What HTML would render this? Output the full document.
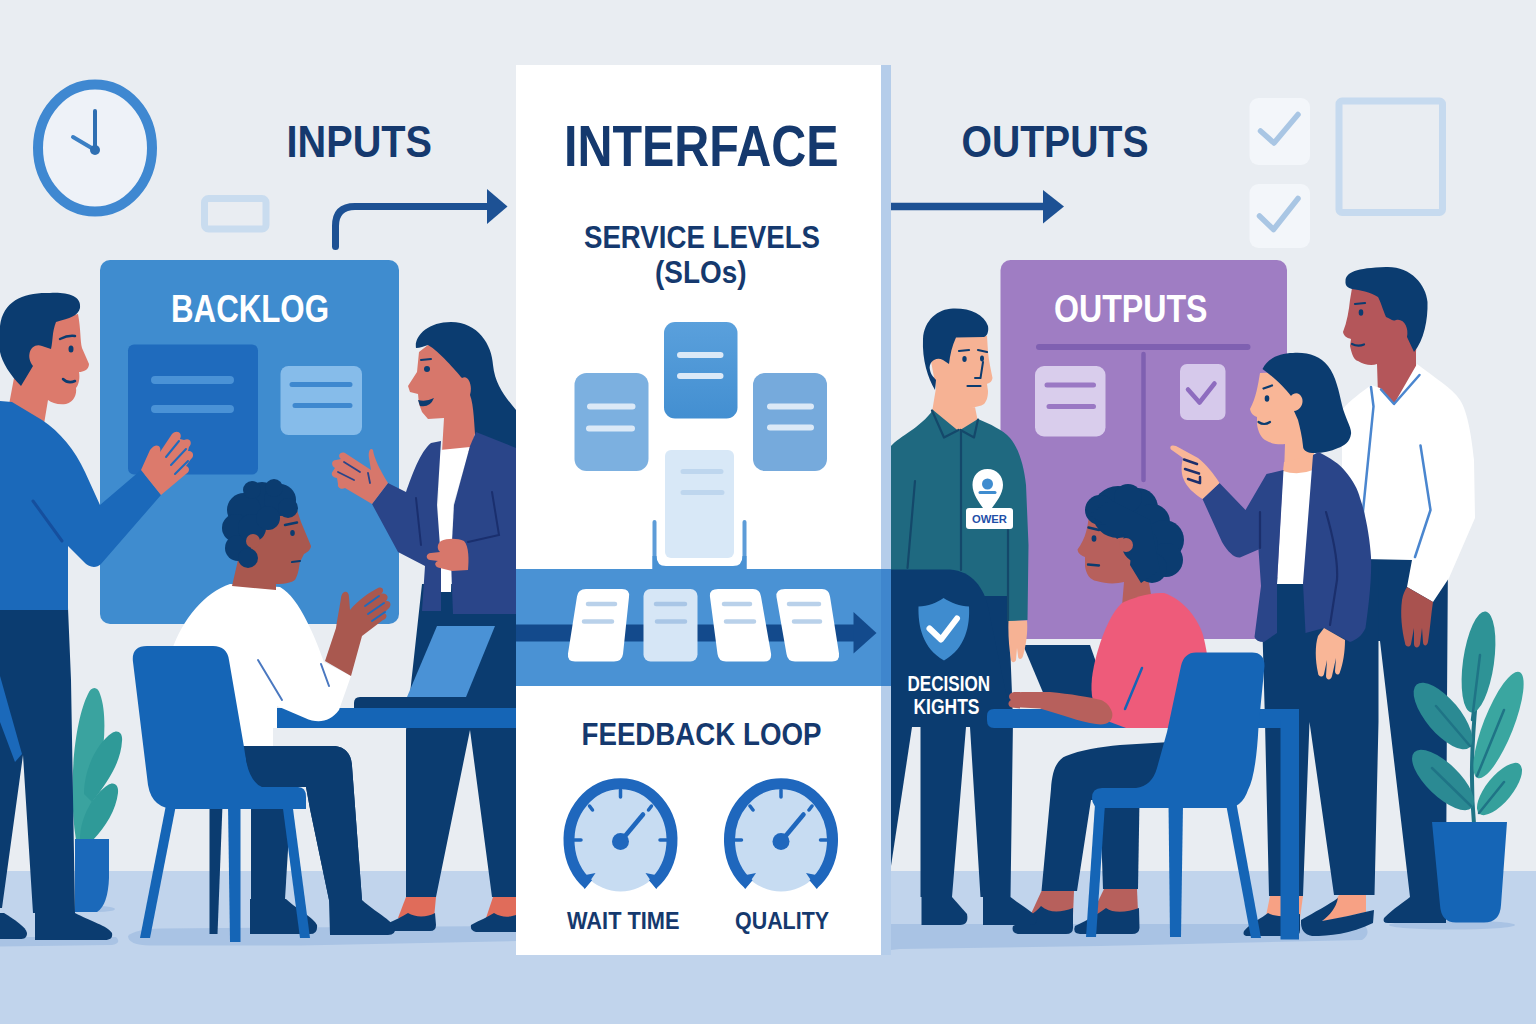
<!DOCTYPE html>
<html lang="en">
<head>
<meta charset="utf-8">
<title>Interface: Inputs, Service Levels, Feedback Loop, Outputs</title>
<style>
html,body{margin:0;padding:0;background:#e9edf2;}
body{width:1536px;height:1024px;overflow:hidden;}
svg{display:block;}
text{font-family:"Liberation Sans",sans-serif;font-weight:bold;}
</style>
</head>
<body>
<svg width="1536" height="1024" viewBox="0 0 1536 1024">
<defs>
  <linearGradient id="gCardTop" x1="0" y1="0" x2="0" y2="1">
    <stop offset="0" stop-color="#5aa0dc"/><stop offset="1" stop-color="#438fd1"/>
  </linearGradient>
</defs>

<!-- ===== BACKGROUND ===== -->
<g id="bg">
  <rect x="0" y="0" width="1536" height="1024" fill="#e9edf2"/>
  <rect x="0" y="871" width="1536" height="153" fill="#c1d4ec"/>
  <path d="M891,924 L1364,924 Q1372,934 1362,940 L1100,946 L900,949 L891,950 Z" fill="#a9c3e4"/>
  <ellipse cx="1452" cy="925" rx="63" ry="4.500" fill="#a9c3e4"/>
  <path d="M128,936 Q135,929 160,928.500 L516,926 L516,941 L300,945.500 L150,945.500 Q128,945 128,936 Z" fill="#a9c3e4"/>
  <path d="M0,937 L116,937 Q122,943 112,945 L0,946.500 Z" fill="#a9c3e4"/>
  <ellipse cx="98" cy="909" rx="17" ry="3" fill="#a9c3e4"/>
</g>

<!-- ===== WALL DECOR ===== -->
<g id="decor">
  <!-- clock -->
  <ellipse cx="95" cy="148" rx="57" ry="63.5" fill="#eef2f8" stroke="#3f88d1" stroke-width="10"/>
  <path d="M95,150 L95,111" stroke="#2f6fb2" stroke-width="4" stroke-linecap="round" fill="none"/>
  <path d="M95,150 L73,137" stroke="#3b7fc4" stroke-width="4" stroke-linecap="round" fill="none"/>
  <circle cx="95" cy="150" r="5" fill="#2f6fb2"/>
  <!-- small frame -->
  <rect x="204.500" y="198.500" width="61.500" height="30.500" rx="4" fill="none" stroke="#c9dcef" stroke-width="7"/>
  <!-- checkboxes -->
  <rect x="1249.500" y="98" width="60.500" height="67" rx="9" fill="#f3f6fa"/>
  <path d="M1260.500,131 L1274,143 L1298,114.500" fill="none" stroke="#a9c6e4" stroke-width="5.500" stroke-linecap="round" stroke-linejoin="round"/>
  <rect x="1249.500" y="184" width="60.500" height="64" rx="9" fill="#f3f6fa"/>
  <path d="M1259.500,216 L1273.500,229.500 L1298,198.500" fill="none" stroke="#a9c6e4" stroke-width="5.500" stroke-linecap="round" stroke-linejoin="round"/>
  <!-- big frame -->
  <rect x="1339" y="101" width="103.500" height="111.500" rx="3" fill="none" stroke="#c6daef" stroke-width="7"/>
</g>

<!-- ===== HEADINGS + ARROWS ===== -->
<g id="headings" fill="#15396e">
  <text x="286.500" y="157" font-size="44" textLength="145.500" lengthAdjust="spacingAndGlyphs">INPUTS</text>
  <text x="961.500" y="156.500" font-size="43.500" textLength="187" lengthAdjust="spacingAndGlyphs">OUTPUTS</text>
  <path d="M335.500,246.500 L335.500,226 Q335.500,206.500 355,206.500 L490,206.500" fill="none" stroke="#1d5194" stroke-width="7" stroke-linecap="round"/>
  <path d="M487,189 L507.500,206.500 L487,224 Z" fill="#1d5194"/>
  <path d="M891,206.500 L1046,206.500" fill="none" stroke="#1d5194" stroke-width="7.500"/>
  <path d="M1043,190 L1064,206.500 L1043,223.500 Z" fill="#1d5194"/>
</g>

<!-- ===== BACKLOG BOARD ===== -->
<g id="backlog">
  <rect x="100" y="260" width="299" height="364" rx="10" fill="#3f8ccf"/>
  <text x="171" y="322" font-size="38" fill="#ffffff" textLength="158" lengthAdjust="spacingAndGlyphs">BACKLOG</text>
  <rect x="128" y="344.500" width="130" height="130" rx="6" fill="#1f6bbd"/>
  <path d="M155,380 H230 M155,409 H230" stroke="#4a92d6" stroke-width="8" stroke-linecap="round"/>
  <rect x="280.500" y="366" width="81.500" height="69" rx="8" fill="#86bcea"/>
  <path d="M292,384.500 H350 M295,405.500 H350" stroke="#3e88cf" stroke-width="5" stroke-linecap="round"/>
</g>

<!-- ===== OUTPUTS BOARD ===== -->
<g id="outboard">
  <rect x="1000.500" y="260" width="286.500" height="379" rx="10" fill="#9f7dc3"/>
  <text x="1054" y="322" font-size="38" fill="#ffffff" textLength="153.500" lengthAdjust="spacingAndGlyphs">OUTPUTS</text>
  <path d="M1039,347 H1247.500" stroke="#7f60b1" stroke-width="6" stroke-linecap="round"/>
  <path d="M1143.500,354 V480" stroke="#7f60b1" stroke-width="4.500" stroke-linecap="round"/>
  <rect x="1035" y="366" width="70.500" height="70.500" rx="9" fill="#d9cdec"/>
  <path d="M1047,385 H1093.500 M1049,406.500 H1093.500" stroke="#9a78c4" stroke-width="5" stroke-linecap="round"/>
  <rect x="1180" y="364" width="45.500" height="56" rx="7" fill="#d6c9eb"/>
  <path d="M1188,389.500 L1199.500,402.500 L1214.500,383.500" fill="none" stroke="#8e6cbf" stroke-width="4.500" stroke-linecap="round" stroke-linejoin="round"/>
</g>

<!-- ===== PEOPLE LEFT ===== -->
<g id="people-left">
  <!-- plant left -->
  <g id="plant-left">
    <path d="M76,840 C68,790 74,722 88,694 C91,686 98,686 100,694 C108,715 104,755 97,784 C91,806 87,822 89,840 Z" fill="#3aa39f"/>
    <path d="M84,794 C84,768 98,742 112,733 C118,729 123,733 122,741 C121,762 108,782 92,802 Z" fill="#2f9a98"/>
    <path d="M80,840 C80,816 94,794 108,785 C114,781 119,785 118,793 C116,810 106,826 93,840 Z" fill="#2f9a98"/>
    <path d="M75,839 H109 V878 Q108,905 97,912 H75 Z" fill="#1b69ba"/>
  </g>

  <!-- man 1 (standing, blue sweater) -->
  <g id="man1">
    <!-- pants -->
    <path d="M0,608 L68,608 L71,680 L75,913 L33,913 L23,755 L2,908 L0,908 Z" fill="#0b3c70"/>
    <path d="M35,913 L75,913 C90,921 108,926 112,933 C113,938 110,940 105,940 L35,940 Z" fill="#0b3c70"/>
    <path d="M0,913 L4,913 C15,920 26,927 27,933 C27,938 24,939 20,939 L0,939 Z" fill="#0b3c70"/>
    <path d="M0,676 L22,754 L15,762 L0,722 Z" fill="#1b69ba"/>
    <!-- neck + face -->
    <path d="M54,320 L78,314 C81,330 80,340 82,348 L89,364 C89,370 83,372 79,372 C80,378 79,384 76,388 C77,394 74,402 66,404 C58,405 52,403 48,400 L44,424 L8,410 L14,378 L30,340 Z" fill="#dc7a6c"/>
    <!-- hair -->
    <path d="M0,326 C3,300 25,292 50,293 C65,292 82,295 80,308 C78,316 70,318 56,322 C52,332 53,340 51,349 L42,346 C31,342 25,356 33,366 L21,386 C10,375 2,362 0,352 Z" fill="#0b3c70"/>
    <ellipse cx="71" cy="349" rx="2.500" ry="3.500" fill="#0b3c70"/>
    <path d="M60,339 Q68,335 75,336" fill="none" stroke="#0b3c70" stroke-width="2.500" stroke-linecap="round"/>
    <path d="M63,379 Q68,384 75,381" fill="none" stroke="#0b3c70" stroke-width="2.500" stroke-linecap="round"/>
    <!-- sweater -->
    <path d="M0,401 L12,402 L42,420 C60,432 75,450 85,472 L100,505 L141,470 L161,495 L101,564 C96,569 88,567 84,562 L68,546 L68,610 L0,610 Z" fill="#1b69ba"/>
    <path d="M33,501 L62,541" fill="none" stroke="#154f9e" stroke-width="3" stroke-linecap="round"/>
    <!-- hand -->
    <path d="M141,470 L150,450 C156,442 162,446 160,452 L172,434 C177,429 183,433 180,439 L184,440 C190,437 193,443 189,447 L188,451 C193,450 195,456 191,459 L186,466 C190,467 190,472 186,474 L161,495 Z" fill="#dc7a6c"/>
    <path d="M166,457 L179,441 M171,465 L186,449 M175,474 L188,461" stroke="#1f6bbd" stroke-width="2" stroke-linecap="round"/>
  </g>

  <!-- woman left (standing, blazer) -->
  <g id="woman-left">
    <!-- pants -->
    <path d="M422,584 L516,584 L516,897 L492,897 L470,730 L436,897 L406,897 L406,730 Z" fill="#0b3c70"/>
    <path d="M406,897 L436,897 L434,918 L398,918 Z" fill="#e06c5a"/>
    <path d="M386,924 C395,920 402,917 408,913 C416,918 428,917 435,913 L436,925 Q436,931 430,931 L390,931 Q384,930 386,924 Z" fill="#0b3c70"/>
    <path d="M493,897 L516,897 L516,918 L486,918 Z" fill="#e06c5a"/>
    <path d="M471,925 C480,920 488,917 494,913 C502,918 510,917 516,915 L516,932 L476,932 Q470,931 471,925 Z" fill="#0b3c70"/>
    <!-- face + neck -->
    <path d="M428,345 L419,352 L417,372 L408,386 L410,392 L418,394 L419,404 L422,412 L428,419 L444,418 L442,452 L470,452 L476,430 L474,375 L450,340 Z" fill="#d7776b"/>
    <!-- hair -->
    <path d="M416,348 C414,336 428,322 451,322 C478,322 492,345 493,365 C495,385 506,398 516,410 L516,470 L476,445 C474,425 474,405 470,395 C473,385 468,374 462,378 C455,370 440,352 428,345 C424,346 420,348 416,348 Z" fill="#0b3c70"/>
    <circle cx="427" cy="369" r="3" fill="#0b3c70"/>
    <path d="M421,360 L431,359" stroke="#0b3c70" stroke-width="2" stroke-linecap="round"/>
    <path d="M418,400 Q426,402 434,398 Q430,408 420,406 Z" fill="#0b3c70"/>
    <!-- white shirt -->
    <path d="M440,450 L470,447 L453,505 L451,592 L441,592 L438,510 Z" fill="#ffffff"/>
    <!-- blazer -->
    <path d="M441,441 L431,443 C420,452 412,475 406,492 L388,483 L372,504 L398,552 L425,566 L422,611 L441,611 L441,560 L437,505 Z" fill="#2a4589"/>
    <path d="M470,446 L476,432 L516,448 L516,614 L453,614 L451,560 L454,505 Z" fill="#2a4589"/>
    <path d="M416,498 L421,545 M492,492 L499,535 L468,542" fill="none" stroke="#1a2f6e" stroke-width="2" stroke-linecap="round"/>
    <!-- hands -->
    <path d="M372,504 L388,483 C380,470 374,458 373,450 C370,447 368,452 369,458 L371,470 L345,453 C340,451 337,456 341,459 L336,460 C331,460 331,466 335,468 L333,471 C330,474 333,478 337,478 L338,484 C337,488 342,490 345,488 Z" fill="#d7776b"/>
    <path d="M344,462 L360,472 M338,472 L354,480 M368,473 L370,483" stroke="#2a4589" stroke-width="1.800" stroke-linecap="round"/>
    <path d="M441,541 C447,538 458,538 464,541 C469,546 469,560 468,570 L452,571 L440,568 C434,567 434,562 438,561 L430,560 C425,559 426,553 431,553 L440,552 C436,548 438,543 441,541 Z" fill="#d7776b"/>
  </g>

  <!-- laptop + table left -->
  <g id="table-left">
    <path d="M437,626 L495,626 L466,697 L407,697 Z" fill="#4a92d6"/>
    <path d="M360,697 H516 V709 H354 V703 Q354,697 360,697 Z" fill="#0b3c70"/>
    <rect x="277" y="708" width="239" height="20" fill="#1565b6"/>
  </g>

  <!-- seated man -->
  <g id="man2">
    <!-- far leg -->
    <path d="M251,800 L291,800 L285,899 L251,899 Z" fill="#0b3c70"/>
    <path d="M250,899 L286,899 C298,910 314,918 317,925 Q318,934 310,934 L250,934 Z" fill="#0b3c70"/>
    <!-- chair far legs -->
    <path d="M209.500,805 L222.500,805 L217.500,934 L209.500,934 Z" fill="#0b3c70"/>
    <!-- torso -->
    <path d="M230,584 L280,587 C300,598 316,640 324,662 L351,676 L339,710 C330,722 318,724 305,718 L277,706 L277,728 L273,728 L273,748 L170,748 L172,650 C182,620 205,592 230,584 Z" fill="#ffffff"/>
    <!-- thigh + shin -->
    <path d="M236,746 L335,746 Q351,748 352,766 L362,900 L329,900 L310,809 L306,787 L236,787 Z" fill="#0b3c70"/>
    <path d="M329,900 L362,900 C375,912 392,920 395,928 Q396,935 388,935 L330,935 Z" fill="#0b3c70"/>
    <!-- neck/face -->
    <path d="M238,560 L232,586 L276,590 L276,584 C286,584 295,582 296,578 C299,572 299,566 300,562 L304,554 C308,552 311,549 311,546 L301,522 L297,510 L270,508 L246,525 Z" fill="#a9584f"/>
    <!-- hair (curly) -->
    <g fill="#0b3c70">
      <circle cx="262" cy="502" r="20"/><circle cx="280" cy="500" r="16"/><circle cx="244" cy="510" r="17"/>
      <circle cx="236" cy="528" r="14"/><circle cx="238" cy="548" r="13"/><circle cx="248" cy="558" r="10"/>
      <circle cx="288" cy="508" r="10"/><circle cx="252" cy="528" r="14"/><circle cx="268" cy="518" r="12"/>
      <circle cx="274" cy="488" r="9"/><circle cx="252" cy="490" r="9"/>
    </g>
    <circle cx="253" cy="541" r="7" fill="#a9584f"/>
    <ellipse cx="292.500" cy="533" rx="2.300" ry="3" fill="#0b3c70"/>
    <path d="M285,525 L297,522.500" stroke="#0b3c70" stroke-width="2.500" stroke-linecap="round"/>
    <path d="M292,562 L300,561" stroke="#0b3c70" stroke-width="2.200" stroke-linecap="round"/>
    <!-- sleeve lines -->
    <path d="M258,660 L282,700 M321,664 L329,686" fill="none" stroke="#4a78c0" stroke-width="2" stroke-linecap="round"/>
    <!-- forearm + hand -->
    <path d="M325,661 L336,628 C338,615 340,605 341,598 C342,590 349,590 349,597 L350,610 C358,600 370,592 378,588 C383,586 385,591 381,594 C386,592 390,597 386,601 C391,600 392,606 388,609 L384,613 C388,614 387,619 383,620 L362,636 L351,676 Z" fill="#a9584f"/>
    <path d="M365,606 L379,596 M368,614 L384,603 M372,621 L385,612" stroke="#1f6bbd" stroke-width="2" stroke-linecap="round"/>
  </g>

  <!-- chair left -->
  <g id="chair-left">
    <path d="M166,805 L176,805 L150,938 L140,938 Z" fill="#1565b6"/>
    <path d="M228,805 L240.500,805 L240.500,942 L230,942 Z" fill="#1565b6"/>
    <path d="M282.500,805 L292.500,805 L310,938 L300,938 Z" fill="#1565b6"/>
    <path d="M147,646 L213,646 Q227,646 229,660 L244,747 Q248,781 264,787 L298,787 Q306,787 306,797 L306,809 L176,809 Q152,809 148,785 L133,662 Q131,646 147,646 Z" fill="#1565b6"/>
  </g>
  <!-- near leg over chair -->
  <path d="M246,746 L335,746 Q351,748 352,766 L362,900 L329,900 L310,809 L306,787 L262,787 Q250,782 246,760 Z" fill="#0b3c70"/>
</g>

<!-- ===== PEOPLE RIGHT ===== -->
<g id="people-right">
  <!-- tall man -->
  <g id="tallman">
    <!-- pants -->
    <path d="M1363,555 L1448,555 L1447,700 L1446,897 L1410,897 L1380,641 L1363,641 Z" fill="#0b3c70"/>
    <path d="M1384,918 C1394,908 1404,902 1410,897 L1446,897 L1446,923 L1388,923 Q1382,923 1384,918 Z" fill="#0b3c70"/>
    <!-- neck + face -->
    <path d="M1352,288 L1350,300 C1349,310 1347,322 1343,332 C1344,337 1348,338 1351,339 L1350,346 C1352,355 1354,360 1358,361 C1364,365 1372,366 1377,364 L1378,395 L1394,407 L1416,392 L1416,352 L1420,300 L1380,280 Z" fill="#b4565a"/>
    <!-- hair -->
    <path d="M1345.500,281 C1346,272 1356,268 1386,267 C1410,266 1426,284 1427.500,302 C1428,320 1424,340 1414,352 L1407,337 C1409,328 1404,318 1396,320 C1392,322 1390,318 1386,317 C1383,310 1380,300 1378,297 C1370,292 1360,290 1352,289 C1348,288 1345,286 1345.500,281 Z" fill="#0b3c70"/>
    <ellipse cx="1361" cy="312.500" rx="2.300" ry="3.200" fill="#0b3c70"/>
    <path d="M1355,304 L1365,303" stroke="#0b3c70" stroke-width="2.200" stroke-linecap="round"/>
    <path d="M1352,344 Q1358,347 1364,344.500" fill="none" stroke="#0b3c70" stroke-width="2.200" stroke-linecap="round"/>
    <!-- shirt -->
    <path d="M1371,385 L1380,388 L1394,404 L1417,364 C1435,378 1452,388 1460,400 C1468,412 1472,440 1474,460 L1475,518 L1449,578 L1433,602 L1407,587 L1412,560 L1363,559 L1342,559 L1342,410 C1350,400 1362,392 1371,385 Z" fill="#ffffff"/>
    <path d="M1381,389.500 L1394,404 L1419.500,375" fill="none" stroke="#4a86cf" stroke-width="2.500" stroke-linecap="round" stroke-linejoin="round"/>
    <path d="M1371,387 L1373.500,406.500 L1363,511 L1363,558" fill="none" stroke="#4a86cf" stroke-width="2.500" stroke-linecap="round" stroke-linejoin="round"/>
    <path d="M1420.500,445.500 L1430.500,510 L1415,557" fill="none" stroke="#4a86cf" stroke-width="2.500" stroke-linecap="round" stroke-linejoin="round"/>
    <!-- hand -->
    <path d="M1407,587 L1433,602 C1431,615 1430,630 1428,642 C1427,647 1423,646 1423,642 L1422,628 L1420,644 C1419,649 1414,648 1414,644 L1414,628 L1411,644 C1410,648 1405,647 1405,643 C1402,630 1400,615 1402,600 C1403,594 1405,590 1407,587 Z" fill="#a9524f"/>
  </g>

  <!-- blazer woman -->
  <g id="woman-right">
    <!-- pants -->
    <path d="M1261,580 L1378.500,560 L1378.500,722 L1374.500,895 L1334,895 L1309.500,722 L1303,896 L1269,896 L1265,722 Z" fill="#0b3c70"/>
    <path d="M1270,896 L1303,896 L1300,918 L1266,916 Z" fill="#f7a184"/>
    <path d="M1339,895 L1366,895 L1366,912 L1322,922 Z" fill="#f7a184"/>
    <path d="M1244,931 C1252,922 1262,918 1268,913 C1276,918 1290,916 1300,914 L1300,930 Q1300,936 1294,936 L1248,936 Q1242,936 1244,931 Z" fill="#0b3c70"/>
    <path d="M1301,920 C1315,912 1328,905 1338,898 C1336,908 1330,915 1322,921 C1340,918 1356,914 1374,910 L1373,923 C1350,934 1330,936 1312,936 Q1300,934 1301,920 Z" fill="#0b3c70"/>
    <!-- neck + face -->
    <path d="M1260,373 C1258,385 1256,398 1250,409 C1251,414 1254,416 1257,417 L1257,424 C1258,432 1261,438 1266,440.500 C1272,444 1280,445 1285,444 L1284,474 L1314,474 L1314,450 L1310,400 L1290,372 Z" fill="#f9b697"/>
    <!-- hair -->
    <path d="M1262.500,369 C1268,358 1280,353 1293,353 C1308,352 1320,356 1328,366 C1336,376 1339,392 1342,405 C1345,418 1352,428 1351,434 C1350,442 1344,446 1338,448 C1330,452 1320,453.500 1312,453 C1306,452.500 1303,450 1303,446 C1302,436 1300,428 1298,420 L1294,411 C1300,410 1304,404 1302,398 C1300,392 1294,392 1291,396 C1285,388 1275,378 1262.500,369 Z" fill="#0b3c70"/>
    <ellipse cx="1267" cy="398.500" rx="2.300" ry="3.200" fill="#0b3c70"/>
    <path d="M1263.500,388.500 L1272,385.500" stroke="#0b3c70" stroke-width="2.200" stroke-linecap="round"/>
    <path d="M1258.500,422 Q1264,426 1270,422" fill="none" stroke="#0b3c70" stroke-width="2.200" stroke-linecap="round"/>
    <!-- white shirt -->
    <path d="M1283,471 L1314,455 L1304,584 L1277,584 Z" fill="#ffffff"/>
    <path d="M1283,471 Q1298,476 1313,470 L1314,455 L1284,462 Z" fill="#f9b697"/>
    <!-- blazer right part -->
    <path d="M1313,455 L1318.500,452 C1330,458 1340,464 1345,471 C1353,480 1358,490 1360,498 C1366,515 1370,540 1371,557 C1372,580 1368,610 1365.500,628 C1362,636 1356,640 1350,642 L1324,628 L1305.500,633 L1303,583 Z" fill="#2a4589"/>
    <!-- blazer left part + arm -->
    <path d="M1283.500,470 L1266.500,474 L1245.500,510 L1219.500,483 L1202.500,499 L1222,542 C1228,552 1234,558 1240,557.500 L1258.500,549.500 L1261,586 L1254.500,637 Q1256,642 1264,642 L1277,633 L1277,583 Z" fill="#2a4589"/>
    <path d="M1260,512 L1260,548 M1326,512 C1334,540 1338,565 1337,580 L1330,625" fill="none" stroke="#1b2f6c" stroke-width="2.200" stroke-linecap="round"/>
    <!-- hanging hand -->
    <path d="M1324,628 L1345,640 C1345,652 1343,664 1340,672 C1339,676 1335,675 1335,671 L1336,658 L1332,676 C1331,681 1326,680 1326,676 L1327,660 L1324,674 C1323,678 1318,677 1318,673 C1315,660 1315,645 1318,636 Z" fill="#f9b697"/>
    <!-- pointing hand -->
    <path d="M1219.500,483 L1202.500,499 C1194,494 1186,486 1184,480 C1180,472 1182,462 1183,458 L1171,449.500 C1169,446 1172,444.500 1176,446 L1198,458 C1206,464 1214,474 1219.500,483 Z" fill="#f9b697"/>
    <path d="M1184,459.500 L1197,464 M1185,469 L1199,473.500 M1188,479 L1200,483 L1200,477" fill="none" stroke="#1b2f6c" stroke-width="2.500" stroke-linecap="round" stroke-linejoin="round"/>
  </g>

  <!-- table right + laptop -->
  <g id="table-right">
    <path d="M1023,645 H1090 L1110,702 H1047 Z" fill="#0b3c70"/>
    <path d="M994,709 H1299 V728 H994 Q987,728 987,720 V716 Q987,709 994,709 Z" fill="#1565b6"/>
    <rect x="1280.500" y="720" width="18.500" height="219.500" fill="#1565b6"/>
  </g>

  <!-- seated woman -->
  <g id="woman-seated">
    <!-- far leg -->
    <path d="M1100,800 L1139.500,800 L1138,889 L1103,889 Z" fill="#0b3c70"/>
    <path d="M1104,889 L1137,889 L1138,912 L1090,918 Z" fill="#b7605c"/>
    <path d="M1075,926 C1088,920 1098,914 1106,908 C1114,914 1128,912 1139,908 L1139.500,928 Q1139,934 1132,934 L1080,934 Q1072,933 1075,926 Z" fill="#0b3c70"/>
    <!-- near leg -->
    <path d="M1170,742 L1120,745 C1100,747 1080,750 1066,756 C1056,760 1052,772 1051,789 L1041.500,891 L1077,891 L1091,800 L1170,800 Z" fill="#0b3c70"/>
    <path d="M1041.500,891 L1074,891 L1073,915 L1030,916 Z" fill="#b7605c"/>
    <path d="M1013,926 C1024,920 1034,914 1041,906 C1050,914 1062,912 1073,908 L1073,928 Q1073,934 1066,934 L1018,934 Q1011,933 1013,926 Z" fill="#0b3c70"/>
    <!-- neck + face -->
    <path d="M1089,514 C1088,526 1086,538 1077.500,549.500 C1078,554 1082,556 1085,557 L1085,566 C1086,574 1090,580 1096.500,581 C1106,584 1116,584 1124,582 L1122,606 L1152,600 L1145,560 L1130,520 L1100,508 Z" fill="#b7605c"/>
    <!-- hair -->
    <g fill="#0b3c70">
      <circle cx="1118" cy="512" r="26"/><circle cx="1100" cy="510" r="15"/><circle cx="1138" cy="508" r="20"/>
      <circle cx="1152" cy="522" r="18"/><circle cx="1164" cy="540" r="20"/><circle cx="1166" cy="560" r="17"/>
      <circle cx="1152" cy="568" r="15"/><circle cx="1140" cy="545" r="18"/><circle cx="1128" cy="498" r="14"/>
      <path d="M1089,515 L1107,526 L1117,539 L1125,534 L1132,545 L1130,565 L1141,583 L1160,570 L1150,520 L1110,500 Z"/>
    </g>
    <circle cx="1126" cy="545" r="7" fill="#b7605c"/>
    <ellipse cx="1094" cy="538.500" rx="2.400" ry="3.300" fill="#0b3c70"/>
    <path d="M1088.500,527.500 L1099,530" stroke="#0b3c70" stroke-width="2.500" stroke-linecap="round"/>
    <path d="M1088,564.500 L1099,565.500" stroke="#0b3c70" stroke-width="2.300" stroke-linecap="round"/>
    <!-- pink top -->
    <path d="M1122,603 C1132,598 1150,592 1164,593 C1180,598 1196,614 1203,635 C1207,650 1212,680 1212,728 L1126,728 L1110,722 C1100,716 1094,706 1092,696 C1090,680 1094,664 1098,650 C1104,630 1112,612 1122,603 Z" fill="#ee5b7a"/>
    <path d="M1142,668 L1125,709" stroke="#1565b6" stroke-width="2.500" stroke-linecap="round"/>
    <!-- forearm + hand on table -->
    <path d="M1101,700 C1090,697 1070,694 1050,692 L1022,692 C1014,692 1010,696 1012,699 C1008,701 1008,706 1012,707 L1040,708.500 C1060,714 1080,722 1096,724 C1108,726 1114,720 1112,712 C1110,706 1106,702 1101,700 Z" fill="#b7605c"/>
  </g>

  <!-- chair right -->
  <g id="chair-right">
    <path d="M1095,804 L1105,804 L1096,937 L1086,937 Z" fill="#1565b6"/>
    <path d="M1168.500,804 L1183,804 L1181,937 L1170,937 Z" fill="#1565b6"/>
    <path d="M1226,804 L1236.500,804 L1261,938 L1251,938 Z" fill="#1565b6"/>
    <path d="M1196,652.500 L1252,652.500 Q1264.500,652.500 1264.500,666 L1258.500,727 Q1256,775 1248,790 Q1242,808 1226,808 L1102,808 Q1092,808 1092,798 Q1092,788 1102,788 L1136,788 Q1152,786 1157,768 L1167,732 L1181,666 Q1184,652.500 1196,652.500 Z" fill="#1565b6"/>
  </g>

  <!-- owner -->
  <g id="owner">
    <!-- legs -->
    <path d="M920.500,592 L1008,592 L1013,720 L1010.500,897 L980.500,897 L970,727 L966,727 L952,897 L920.500,897 Z" fill="#0b3c70"/>
    <path d="M921.500,897 H952 L967,914 Q969,925 960,925 H921.500 Z" fill="#0b3c70"/>
    <path d="M983,897 H1010.500 C1020,905 1034,912 1037,918 Q1038,925 1030,925 H983 Z" fill="#0b3c70"/>
    <!-- neck + face -->
    <path d="M955,336 L987,336 L988,352 C989,362 991,370 992.500,378 C992,382 989,383 987,384 L988,391 C988,398 986,402 984,404 C978,408 968,408 960,405 L975,407 L978,422 L958,436 L932,412 L936,388 L930,356 Z" fill="#f6b294"/>
    <!-- hair -->
    <path d="M923,339 C924,320 938,309 953,308.500 C970,308 984,314 988,326 C989,332 987,336 984,337 L956,337.500 C952,346 950,355 949,364 L943,360 C936,356 928,362 930,370 C931,376 935,378 936,380 L935,390 C928,378 922,360 923,339 Z" fill="#0b3c70"/>
    <ellipse cx="964.500" cy="359" rx="2.200" ry="3" fill="#0b3c70"/>
    <ellipse cx="982" cy="358.500" rx="2" ry="3" fill="#0b3c70"/>
    <path d="M959,351 L969,350 M978,350 L987,352" stroke="#0b3c70" stroke-width="2.200" stroke-linecap="round"/>
    <path d="M983,362 L980.500,378 L975,378" fill="none" stroke="#0b3c70" stroke-width="2" stroke-linecap="round" stroke-linejoin="round"/>
    <path d="M967.500,386 L980.500,386" stroke="#0b3c70" stroke-width="2.200" stroke-linecap="round"/>
    <!-- shirt -->
    <path d="M891,446 C900,436 920,428 933,410 L958.500,431 L978,419 C990,424 1003,430 1010,438 C1018,447 1024,465 1026,485 L1028.500,545 L1027.500,620 L1008,621.500 L1008,596 L891,596 Z" fill="#1f6980"/>
    <path d="M932,410.500 L944,437.500 L958.500,430 M978,419.500 L974,437.500 L960.500,430 M961,431 V570 M915,481 L907.500,568 M1008,530 V621" fill="none" stroke="#14486a" stroke-width="2.200" stroke-linecap="round" stroke-linejoin="round"/>
    <!-- hand -->
    <path d="M1008.500,621 L1027,620.500 C1028,632 1026,646 1023,656 C1022,660 1018,660 1018,656 L1017,648 L1016,660 C1015,663 1011,663 1011,659 C1009,648 1008,634 1008.500,621 Z" fill="#f6b294"/>
    <!-- badge -->
    <path d="M987.500,469 C997,469 1003,476 1003,485 C1003,494 996,502 992,508 L983,508 C979,502 972.500,494 972.500,485 C972.500,476 978,469 987.500,469 Z" fill="#ffffff"/>
    <circle cx="987.500" cy="484" r="5.500" fill="#3f8ccf"/>
    <path d="M980,492.500 H995" stroke="#3f8ccf" stroke-width="3" stroke-linecap="round"/>
    <rect x="966" y="508" width="47" height="21" rx="3" fill="#ffffff"/>
    <text x="972" y="522.500" font-size="10.500" fill="#1f4fa8" textLength="35" lengthAdjust="spacingAndGlyphs">OWER</text>
  </g>
</g>

<!-- ===== CENTER PANEL ===== -->
<g id="panel">
  <rect x="881" y="65" width="10" height="890" fill="#b5cdea"/>
  <rect x="516" y="65" width="365" height="890" fill="#ffffff"/>
  <text x="564" y="166" font-size="57.500" fill="#15396e" textLength="274.500" lengthAdjust="spacingAndGlyphs">INTERFACE</text>
  <text x="584" y="247.500" font-size="30.500" fill="#15396e" textLength="236" lengthAdjust="spacingAndGlyphs">SERVICE LEVELS</text>
  <text x="655" y="283" font-size="30.500" fill="#15396e" textLength="91.500" lengthAdjust="spacingAndGlyphs">(SLOs)</text>
  <!-- SLO cards -->
  <rect x="664" y="322" width="73.500" height="96.500" rx="11" fill="url(#gCardTop)"/>
  <path d="M680,355 H720.500 M680,376 H720.500" stroke="#dbe9f7" stroke-width="6" stroke-linecap="round"/>
  <rect x="574.500" y="373" width="74" height="98" rx="12" fill="#7cb0e0"/>
  <path d="M590,406.500 H632.500 M589,428.500 H632" stroke="#dbe9f7" stroke-width="6" stroke-linecap="round"/>
  <rect x="753" y="373" width="74" height="98" rx="12" fill="#76aadc"/>
  <path d="M770,406.500 H811 M770,427.500 H811" stroke="#dbe9f7" stroke-width="6" stroke-linecap="round"/>
  <!-- tray back + light card + tray front -->
  <rect x="665" y="450" width="69" height="108" rx="6" fill="#d8e8f7"/>
  <path d="M683,471.500 H721 M683,492.500 H722" stroke="#bed6ee" stroke-width="5" stroke-linecap="round"/>
  <path d="M654.500,522 V569 M744.500,522 V569" fill="none" stroke="#5d9cd8" stroke-width="4" stroke-linecap="round"/>
  <path d="M652.500,556 H656.500 Q656.500,566 666,566 H733 Q742.500,566 742.500,556 H746.500 V572 H652.500 Z" fill="#4a92d4"/>
  <!-- conveyor band -->
  <rect x="516" y="569" width="375" height="117" fill="#4a92d4"/>
  <rect x="881" y="569" width="10" height="117" fill="#3f86cd"/>
  <rect x="516" y="624.500" width="340" height="17" fill="#134a8c"/>
  <path d="M853.500,612 L876.500,633 L853.500,653.500 Z" fill="#134a8c"/>
  <!-- band cards -->
  <path d="M586,589 H622 Q630,589 629,597 L623,654 Q622,661.500 614,661.500 H575 Q567,661.500 568,653.500 L577,596.500 Q578,589 586,589 Z" fill="#ffffff"/>
  <path d="M588,604 H615 M584,621.500 H612" stroke="#b9d1ea" stroke-width="4.500" stroke-linecap="round"/>
  <rect x="643.500" y="589" width="54" height="72.500" rx="7" fill="#d6e6f6"/>
  <path d="M656,604 H685 M657,621.500 H685" stroke="#a9c6e6" stroke-width="4.500" stroke-linecap="round"/>
  <path d="M718,589 H753 Q760,589 761,596.500 L771,653.500 Q772,661.500 764,661.500 H726 Q718.500,661.500 717.500,654 L710,597 Q709,589 718,589 Z" fill="#ffffff"/>
  <path d="M724,604 H750 M726,621.500 H754" stroke="#b9d1ea" stroke-width="4.500" stroke-linecap="round"/>
  <path d="M785,589 H822 Q829,589 830,596.500 L839,653.500 Q840,661.500 832,661.500 H795 Q787.500,661.500 786.500,654 L776.500,597 Q775.500,589 785,589 Z" fill="#ffffff"/>
  <path d="M789,604 H819 M794,621.500 H820" stroke="#b9d1ea" stroke-width="4.500" stroke-linecap="round"/>
  <!-- feedback loop -->
  <text x="581.500" y="744.500" font-size="31.500" fill="#15396e" textLength="240" lengthAdjust="spacingAndGlyphs">FEEDBACK LOOP</text>
  <!-- gauge 1 -->
  <g id="gauge1">
    <ellipse cx="620.500" cy="840" rx="48" ry="51.500" fill="#c7dcf2"/>
    <path d="M588.500,884.500 A51.500,56.500 0 1 1 652.500,884.500" fill="none" stroke="#1f67bd" stroke-width="11"/>
    <path d="M580.500,876 L584.500,889 L595.500,873 Z M660.500,876 L656.500,889 L645.500,873 Z" fill="#1f67bd"/>
    <path d="M620.500,790 V797 M574,840 H581 M660,840 H667 M589.500,806 L592.500,810 M651.500,806 L648.500,810" stroke="#1f67bd" stroke-width="3.500" stroke-linecap="round"/>
    <path d="M620.500,841.500 L643,814.500" stroke="#1f67bd" stroke-width="4.500" stroke-linecap="round"/>
    <circle cx="620.500" cy="841.500" r="8.500" fill="#1f67bd"/>
  </g>
  <use href="#gauge1" x="160.500" y="0"/>
  <text x="567" y="928.500" font-size="24" fill="#15396e" textLength="112.500" lengthAdjust="spacingAndGlyphs">WAIT TIME</text>
  <text x="735" y="928.500" font-size="24" fill="#15396e" textLength="94" lengthAdjust="spacingAndGlyphs">QUALITY</text>
</g>

<!-- ===== PODIUM ===== -->
<g id="podium">
  <path d="M891,727 L912,727 L891,866 Z" fill="#0b3c70"/>
  <path d="M891,569.500 H950 C972,571 984,588 988,607 L1013,727 L891,727 Z" fill="#0b3c70"/>
  <path d="M943.500,598 C951,603 960,606 969,606.500 C970,625 966,648 944,660.500 C922,648 918,625 918.500,606.500 C928,606 937,603 943.500,598 Z" fill="#3f8ccf"/>
  <path d="M929.500,628.500 L941,639.500 L957,618.500" fill="none" stroke="#ffffff" stroke-width="6" stroke-linecap="round" stroke-linejoin="round"/>
  <text x="907.500" y="691" font-size="21.500" fill="#ffffff" textLength="82.500" lengthAdjust="spacingAndGlyphs">DECISION</text>
  <text x="913.500" y="714" font-size="21.500" fill="#ffffff" textLength="66" lengthAdjust="spacingAndGlyphs">KIGHTS</text>
</g>

<path d="M994,709 H1016 V728 H994 Q987,728 987,720 V716 Q987,709 994,709 Z" fill="#1565b6"/>
<path d="M1014,692 C1008,693 1008,698 1011,700 C1007,702 1008,707 1012,707.500 L1020,708.500 L1020,692 Z" fill="#b7605c"/>

<!-- ===== PLANT RIGHT ===== -->
<g id="plant-right">
  <path d="M1474,824 C1470,780 1472,740 1476,700" fill="none" stroke="#1f7486" stroke-width="4" stroke-linecap="round"/>
  <ellipse cx="1478.500" cy="662" rx="15.500" ry="51" transform="rotate(8 1478.500 662)" fill="#2e9396"/>
  <ellipse cx="1443" cy="716" rx="17" ry="41" transform="rotate(-40 1443 716)" fill="#2b8a93"/>
  <ellipse cx="1443" cy="780" rx="16.500" ry="40" transform="rotate(-46 1443 780)" fill="#2b8a93"/>
  <ellipse cx="1498.500" cy="725" rx="15" ry="57" transform="rotate(21.500 1498.500 725)" fill="#3aa6a0"/>
  <ellipse cx="1499.500" cy="789" rx="13" ry="32" transform="rotate(39 1499.500 789)" fill="#35a09c"/>
  <path d="M1470,746 L1436,706 M1471,806 L1432,768 M1477,776 L1504,710 M1479,813 L1504,782 M1472,720 L1480,655" fill="none" stroke="#1f7486" stroke-width="2.500" stroke-linecap="round"/>
  <path d="M1432,822 H1507 L1501,905 Q1500,922.500 1484,922.500 H1456 Q1441,922.500 1440,905 Z" fill="#1565b6"/>
</g>

</svg>
</body>
</html>
